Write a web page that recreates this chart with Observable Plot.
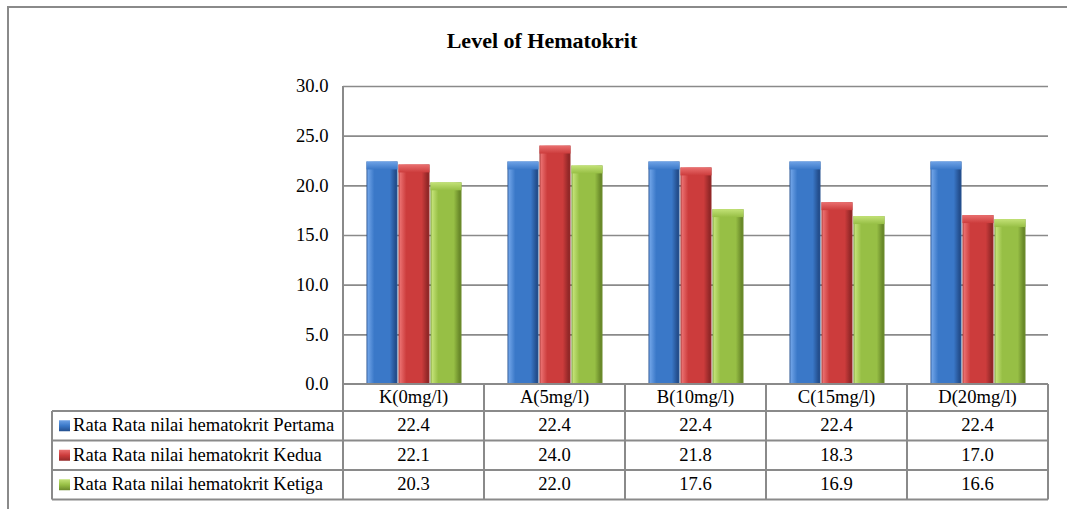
<!DOCTYPE html>
<html><head><meta charset="utf-8">
<script src="https://cdn.jsdelivr.net/npm/d3@7"></script>
<script src="https://cdn.jsdelivr.net/npm/@observablehq/plot@0.6"></script>
<style>
html,body{margin:0;padding:0;background:#fff;}
#chart{width:1067px;height:509px;overflow:hidden;}
</style></head><body><div id="chart"></div>
<script>
const title = "Level of Hematokrit";
const categories = ["K(0mg/l)", "A(5mg/l)", "B(10mg/l)", "C(15mg/l)", "D(20mg/l)"];
const seriesNames = [
  "Rata Rata nilai hematokrit Pertama",
  "Rata Rata nilai hematokrit Kedua",
  "Rata Rata nilai hematokrit Ketiga"
];
const pertama = [22.4, 22.4, 22.4, 22.4, 22.4];
const kedua   = [22.1, 24.0, 21.8, 18.3, 17.0];
const ketiga  = [20.3, 22.0, 17.6, 16.9, 16.6];
const seriesValues = [pertama, kedua, ketiga];
const yTicks = [0, 5, 10, 15, 20, 25, 30];

// styles
const baseColors  = ["#3a78c8", "#cc3c3c", "#97bf45"];
const darkColors  = ["#244f8e", "#932828", "#6a8a2a"];
const lightColors = ["#6ea2e6", "#ea6f6f", "#c3e277"];
const FONT = "'Liberation Serif','Times New Roman',serif";
const FS = 18.6;
const LINE = "#8a8a8a";
const fmt = d3.format(".1f");

const rows = [];
seriesNames.forEach((s, i) => categories.forEach((c, j) =>
  rows.push({series: s, si: i, category: c, value: seriesValues[i][j]})));

const W = 1067, H = 509;
const chart = Plot.plot({
  width: W, height: H,
  marginTop: 86, marginBottom: 125, marginLeft: 342, marginRight: 19,
  style: {fontFamily: FONT, fontSize: FS + "px", color: "#000", background: "#fff", overflow: "visible"},
  fx: {domain: categories, padding: 0, axis: null},
  x: {domain: seriesNames, paddingInner: 0, paddingOuter: 0.7, axis: null},
  y: {domain: [0, 30], axis: null},
  marks: [
    Plot.ruleY(yTicks.filter(t => t > 0), {stroke: LINE, strokeWidth: 1.6}),
    ...seriesNames.map((s, i) => Plot.barY(rows.filter(r => r.si === i), {
      fx: "category", x: "series", y: "value", fill: `url(#bar${i})`, insetLeft: 0.5, insetRight: 0.5
    })),
    ...seriesNames.map((s, i) => Plot.rectY(rows.filter(r => r.si === i), {
      fx: "category", x: "series", y1: d => d.value - 0.8, y2: "value", fill: `url(#top${i})`, insetLeft: 0.5, insetRight: 0.5
    })),
    Plot.axisY({ticks: yTicks, tickFormat: fmt, tickSize: 0, tickPadding: 15, fontSize: FS, label: null})
  ]
});
document.getElementById("chart").appendChild(chart);

const svg = d3.select(chart);
// gradients
const defs = svg.insert("defs", ":first-child");
baseColors.forEach((b, i) => {
  const g = defs.append("linearGradient").attr("id", `bar${i}`).attr("x1", 0).attr("x2", 1).attr("y1", 0).attr("y2", 0);
  [[0, darkColors[i]], [0.05, lightColors[i]], [0.25, b], [0.75, b], [0.93, darkColors[i]], [1, darkColors[i]]]
    .forEach(([o, c]) => g.append("stop").attr("offset", o).attr("stop-color", c));
  const t = defs.append("linearGradient").attr("id", `top${i}`).attr("x1", 0).attr("x2", 0).attr("y1", 0).attr("y2", 1);
  [[0, lightColors[i]], [1, b]].forEach(([o, c]) => t.append("stop").attr("offset", o).attr("stop-color", c));
  const sw = defs.append("linearGradient").attr("id", `sw${i}`).attr("x1", 0).attr("x2", 0).attr("y1", 0).attr("y2", 1);
  [[0, lightColors[i]], [0.5, b], [1, darkColors[i]]].forEach(([o, c]) => sw.append("stop").attr("offset", o).attr("stop-color", c));
});

const fx = chart.scale("fx");
const y = chart.scale("y");
const bw = fx.bandwidth;
const x0 = fx.apply(categories[0]);
const x1 = fx.apply(categories[categories.length - 1]) + bw;
const y0 = y.apply(0), yTop = y.apply(30);
const headerH = 27, rowH = 29.5;
const rowTops = [y0 + headerH, y0 + headerH + rowH, y0 + headerH + 2 * rowH];
const tableBottom = y0 + headerH + 3 * rowH;
const legendLeft = 52;

const g = svg.append("g").attr("font-family", FONT).attr("font-size", FS).attr("fill", "#000");
const lines = g.append("g").attr("stroke", LINE).attr("stroke-width", 2).attr("fill", "none");
// plot left edge continuing through table
lines.append("line").attr("x1", x0).attr("x2", x0).attr("y1", yTop).attr("y2", tableBottom);
// baseline
lines.append("line").attr("x1", x0).attr("x2", x1).attr("y1", y0).attr("y2", y0);
// row lines
[...rowTops, tableBottom].forEach(yy =>
  lines.append("line").attr("x1", legendLeft).attr("x2", x1).attr("y1", yy).attr("y2", yy));
// column dividers
categories.forEach(c => {
  const xx = fx.apply(c) + bw;
  lines.append("line").attr("x1", xx).attr("x2", xx).attr("y1", y0).attr("y2", tableBottom);
});
lines.append("line").attr("x1", legendLeft).attr("x2", legendLeft).attr("y1", rowTops[0]).attr("y2", tableBottom);

// header texts
categories.forEach(c => {
  g.append("text").attr("x", fx.apply(c) + bw / 2).attr("y", y0 + headerH / 2 + 1)
    .attr("text-anchor", "middle").attr("dominant-baseline", "middle").text(c);
});
// rows
seriesNames.forEach((s, i) => {
  const cy = rowTops[i] + rowH / 2 + 1;
  g.append("rect").attr("x", legendLeft + 7).attr("y", cy - 6.5).attr("width", 11).attr("height", 11)
    .attr("fill", `url(#sw${i})`);
  g.append("text").attr("x", legendLeft + 21).attr("y", cy).attr("text-anchor", "start")
    .attr("dominant-baseline", "middle").text(s);
  categories.forEach((c, j) => {
    g.append("text").attr("x", fx.apply(c) + bw / 2).attr("y", cy)
      .attr("text-anchor", "middle").attr("dominant-baseline", "middle").text(fmt(seriesValues[i][j]));
  });
});
// title
g.append("text").attr("x", 542).attr("y", 48).attr("text-anchor", "middle")
  .attr("font-weight", "bold").attr("font-size", 22).text(title);
// outer chart border
g.append("path").attr("d", `M8,${H} V7 H${W}`).attr("stroke", LINE).attr("stroke-width", 2).attr("fill", "none");
</script>
</body></html>
